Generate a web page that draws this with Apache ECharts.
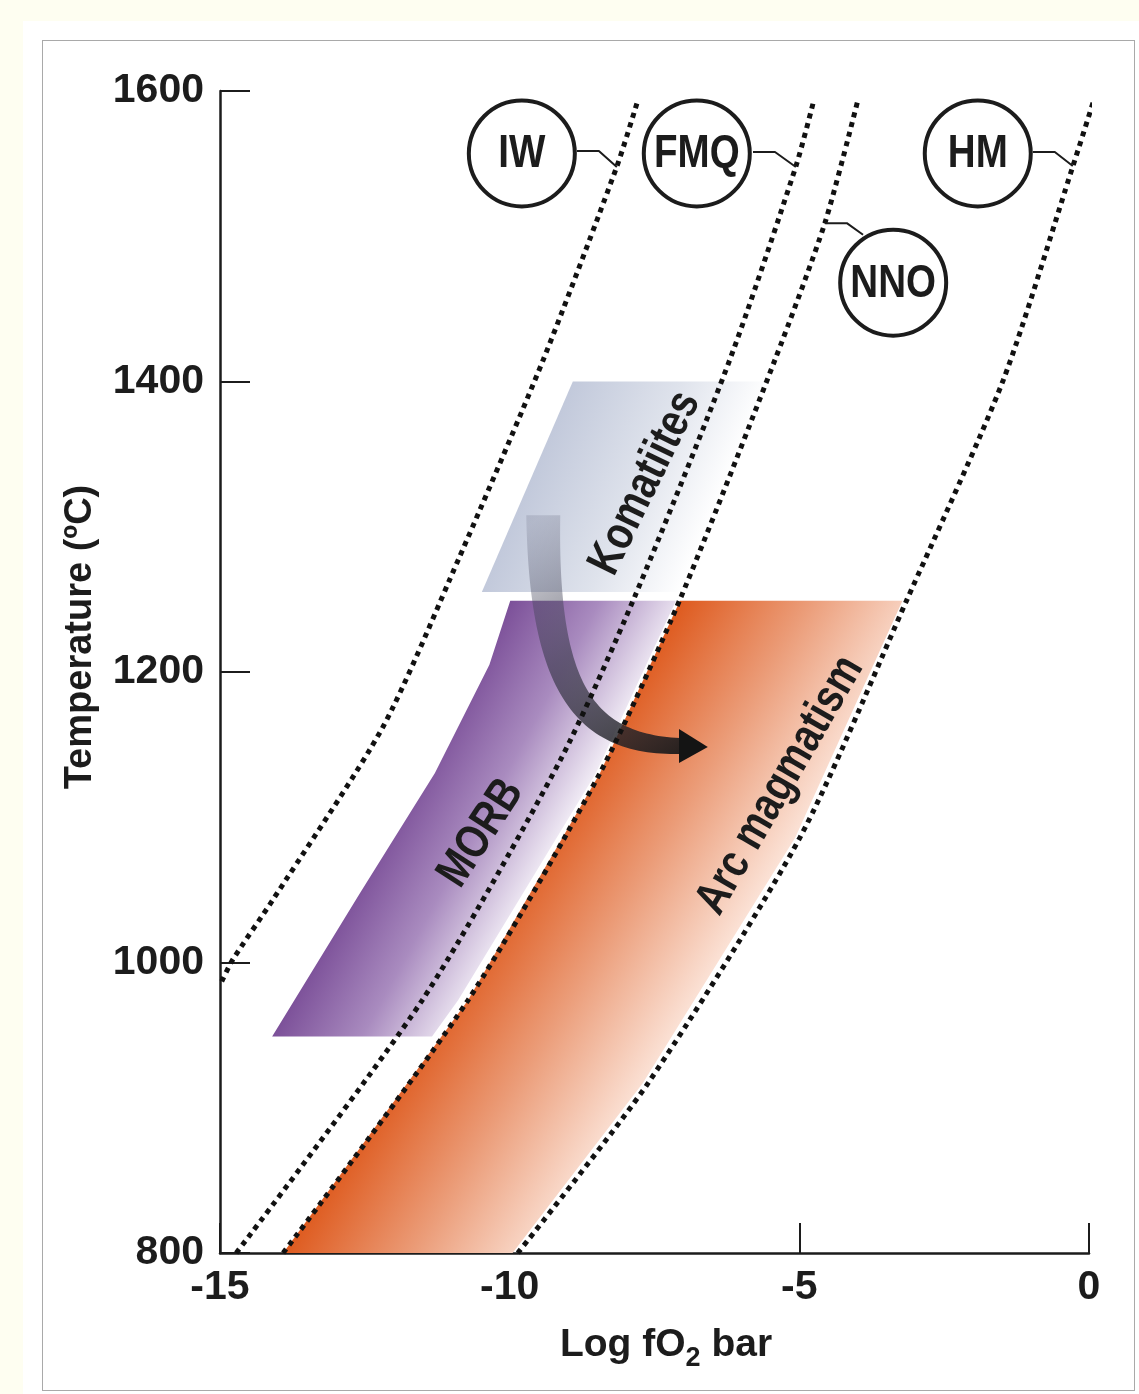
<!DOCTYPE html>
<html><head><meta charset="utf-8">
<script src="https://cdn.jsdelivr.net/npm/echarts@6/dist/echarts.min.js"></script>
<style>
html,body{margin:0;padding:0;background:#fefef1;}
#panel{position:absolute;left:23px;top:21px;width:1116px;height:1373px;background:#fff;}
#frame{position:absolute;left:42px;top:40px;width:1093px;height:1351px;border:1.5px solid #a9a9a9;box-sizing:border-box;}
#chart{position:absolute;left:0;top:0;width:1139px;height:1394px;}
</style></head><body>
<div id="panel"></div><div id="frame"></div><div id="chart"></div>
<script>
const FONT = "'Liberation Sans',Arial,sans-serif";
const NARROW = 0.82;
const INK = '#1c1c1c';

// ---- axes ----
const xRange = [-15, 0], xStep = 5;
const yRange = [800, 1600], yStep = 200;

// ---- oxygen buffer curves [log fO2, T] ----
const bufferNames = ['IW', 'FMQ', 'NNO', 'HM'];
const IW  = [[-14.97,987],[-14.78,1002],[-14.09,1043],[-12.19,1162],[-10.89,1277],[-9.42,1415],[-8.15,1548],[-7.80,1592]];
const FMQ = [[-14.72,800],[-11.51,974],[-9.13,1139],[-7.84,1252],[-6.20,1415],[-5.06,1548],[-4.76,1592]];
const NNO = [[-13.91,800],[-10.72,974],[-8.44,1130.5],[-7.06,1250],[-5.42,1415],[-4.56,1509],[-4.00,1592]];
const HM  = [[-9.86,800],[-7.61,917],[-4.99,1086],[-3.14,1250],[-1.48,1401],[-0.28,1548],[0.07,1592]];

// ---- fields ----
const komatiites = [[-8.91,1400],[-5.51,1400],[-7.06,1255],[-10.48,1255]];
const morb = [[-9.99,1249],[-10.35,1205],[-11.29,1130.5],[-12.58,1048],[-14.10,949],[-11.34,949],[-10.89,974],[-8.51,1130.5],[-7.13,1249]];
const arc  = [[-7.06,1249],[-8.44,1130.5],[-10.72,974],[-13.91,800],[-9.95,800],[-7.70,917],[-5.07,1086],[-3.22,1249]];

// ---- annotations ----
const bufferLabelPos = [[-9.79,1557],[-6.77,1557],[-3.38,1468],[-1.92,1557]];
const leaderIW  = [[-8.84,1558.7],[-8.46,1558.7],[-8.15,1547.7]];
const leaderFMQ = [[-5.80,1558],[-5.42,1558],[-5.06,1547.7]];
const leaderNNO = [[-4.56,1509],[-4.18,1509],[-3.90,1501]];
const leaderHM  = [[-0.97,1558],[-0.59,1558],[-0.28,1548.4]];
const fieldNames = ['Komatiites', 'MORB', 'Arc magmatism'];
const fieldLabelPos = [[-7.66,1330],[-10.49,1089],[-5.33,1122]];
const arrowPath = [[-9.42,1308],[-9.42,1188],[-8.70,1150],[-7.06,1149],[-6.58,1148.4]];

const fieldAngles = [64, 57, 60];

function regionSeries(pts, edge, stops, z) {
  return {
    type: 'custom', silent: true, z: z, clip: false, data: [[0, 0]],
    renderItem: function (params, api) {
      const P = pts.map(p => api.coord(p));
      const a = P[edge[0]], b = P[edge[1]];
      const ex = b[0] - a[0], ey = b[1] - a[1], L = Math.hypot(ex, ey);
      const nx = ey / L, ny = -ex / L;
      let mn = Infinity, mx = -Infinity;
      P.forEach(p => { const d = p[0]*nx + p[1]*ny; mn = Math.min(mn, d); mx = Math.max(mx, d); });
      const base = a[0]*nx + a[1]*ny;
      return {
        type: 'polygon', shape: { points: P },
        style: { fill: { type: 'linear', global: true,
          x: a[0] + nx*(mn-base), y: a[1] + ny*(mn-base),
          x2: a[0] + nx*(mx-base), y2: a[1] + ny*(mx-base), colorStops: stops } }
      };
    }
  };
}

function bufferLine(data) {
  return { type: 'line', data: data, smooth: 0.25, symbol: 'none', clip: false, silent: true, z: 4,
    lineStyle: { color: '#111', width: 5, type: [5, 5], cap: 'butt' } };
}
function leader(data) {
  return { type: 'line', data: data, symbol: 'none', clip: false, silent: true, z: 5,
    lineStyle: { color: INK, width: 2 } };
}

const arrowSeries = {
  type: 'custom', silent: true, z: 3, clip: false, data: [[0, 0]],
  renderItem: function (params, api) {
    const P = arrowPath.map(p => api.coord(p));
    const [p0, p1, p2, p3, tip] = P;
    const N = 60, W0 = 34, W1 = 16, H = 17;
    const left = [], right = [];
    for (let i = 0; i <= N; i++) {
      const t = i / N, u = 1 - t;
      const x = u*u*u*p0[0] + 3*u*u*t*p1[0] + 3*u*t*t*p2[0] + t*t*t*p3[0];
      const y = u*u*u*p0[1] + 3*u*u*t*p1[1] + 3*u*t*t*p2[1] + t*t*t*p3[1];
      const dx = 3*u*u*(p1[0]-p0[0]) + 6*u*t*(p2[0]-p1[0]) + 3*t*t*(p3[0]-p2[0]);
      const dy = 3*u*u*(p1[1]-p0[1]) + 6*u*t*(p2[1]-p1[1]) + 3*t*t*(p3[1]-p2[1]);
      const L = Math.hypot(dx, dy) || 1;
      const nx = -dy / L, ny = dx / L;
      const w = (W0 + (W1 - W0) * t) / 2;
      left.push([x + nx*w, y + ny*w]);
      right.push([x - nx*w, y - ny*w]);
    }
    const body = left.concat(right.reverse());
    return {
      type: 'group', children: [
        { type: 'polygon', shape: { points: body },
          style: { fill: { type: 'linear', global: true, x: p0[0], y: p0[1], x2: tip[0], y2: tip[1],
            colorStops: [{offset: 0, color: 'rgba(80,82,105,0.18)'}, {offset: 0.45, color: 'rgba(55,55,72,0.62)'}, {offset: 1, color: 'rgba(22,22,22,0.95)'}] } } },
        { type: 'polygon', shape: { points: [[p3[0]-1, p3[1]-H], [tip[0], tip[1]], [p3[0]-1, p3[1]+H]] },
          style: { fill: '#141414' } }
      ]
    };
  }
};

const fieldTextSeries = {
  type: 'custom', silent: true, z: 7, clip: false, data: fieldLabelPos.map((p, i) => [p[0], p[1], i]),
  renderItem: function (params, api) {
    const i = params.dataIndex;
    const p = api.coord(fieldLabelPos[i]);
    return { type: 'text', x: p[0], y: p[1], rotation: fieldAngles[i] * Math.PI / 180, scaleX: NARROW,
      style: { text: fieldNames[i], align: 'center', verticalAlign: 'middle',
        fontSize: 47, fontWeight: 'bold', fontFamily: FONT, fill: INK } };
  }
};

const bufferCircleSeries = {
  type: 'custom', silent: true, z: 6, clip: false, data: bufferLabelPos.map((p, i) => [p[0], p[1], i]),
  renderItem: function (params, api) {
    const i = params.dataIndex;
    const p = api.coord(bufferLabelPos[i]);
    return { type: 'group', children: [
      { type: 'circle', shape: { cx: p[0], cy: p[1], r: 53 }, style: { fill: '#fff', stroke: INK, lineWidth: 4 } },
      { type: 'text', x: p[0], y: p[1] + 1, scaleX: NARROW,
        style: { text: bufferNames[i], align: 'center', verticalAlign: 'middle',
          fontSize: 47, fontWeight: 'bold', fontFamily: FONT, fill: INK } }
    ] };
  }
};

const chart = echarts.init(document.getElementById('chart'), null, { renderer: 'canvas' });
chart.setOption({
  animation: false,
  backgroundColor: 'transparent',
  grid: { left: 220, right: 50, top: 91, bottom: 141, containLabel: false, outerBoundsMode: 'none' },
  xAxis: {
    type: 'value', min: xRange[0], max: xRange[1], interval: xStep,
    splitLine: { show: false },
    axisLine: { onZero: false, lineStyle: { color: INK, width: 2.5 } },
    axisTick: { inside: true, length: 30, lineStyle: { color: INK, width: 2 } },
    axisLabel: { margin: 14, fontSize: 41, fontWeight: 'bold', fontFamily: FONT, color: INK, formatter: v => String(v) },
    name: '{a|Log fO}{s|2}{a| bar}', nameLocation: 'middle', nameGap: 66,
    nameTextStyle: { padding: [0, 0, 0, 23],
      rich: { a: { fontSize: 39, fontWeight: 'bold', fontFamily: FONT, color: INK },
              s: { fontSize: 27, fontWeight: 'bold', fontFamily: FONT, color: INK, padding: [26, 0, 0, 0] } } }
  },
  yAxis: {
    type: 'value', min: yRange[0], max: yRange[1], interval: yStep,
    splitLine: { show: false },
    axisLine: { onZero: false, lineStyle: { color: INK, width: 2.5 } },
    axisTick: { inside: true, length: 30, lineStyle: { color: INK, width: 2 } },
    axisLabel: { margin: 16, fontSize: 41, fontWeight: 'bold', fontFamily: FONT, color: INK, formatter: v => String(v) },
    name: 'Temperature (\u00baC)', nameLocation: 'middle', nameGap: 120,
    nameTextStyle: { fontSize: 38, fontWeight: 'bold', fontFamily: FONT, color: INK, padding: [0, 0, 0, 70] }
  },
  series: [
    regionSeries(komatiites, [0, 3], [{offset: 0, color: '#c2c9db'}, {offset: 0.55, color: '#dfe3ec'}, {offset: 1, color: '#ffffff'}], 1),
    regionSeries(morb, [0, 4], [{offset: 0, color: '#7c5099'}, {offset: 0.5, color: '#a98bbf'}, {offset: 1, color: '#f1ecf5'}], 1),
    regionSeries(arc, [0, 3], [{offset: 0, color: '#de5a1e'}, {offset: 0.5, color: '#eb9c78'}, {offset: 1, color: '#fbe2d6'}], 1),
    arrowSeries,
    bufferLine(IW), bufferLine(FMQ), bufferLine(NNO), bufferLine(HM),
    leader(leaderIW), leader(leaderFMQ), leader(leaderNNO), leader(leaderHM),
    bufferCircleSeries,
    fieldTextSeries
  ]
});
</script>
</body></html>
